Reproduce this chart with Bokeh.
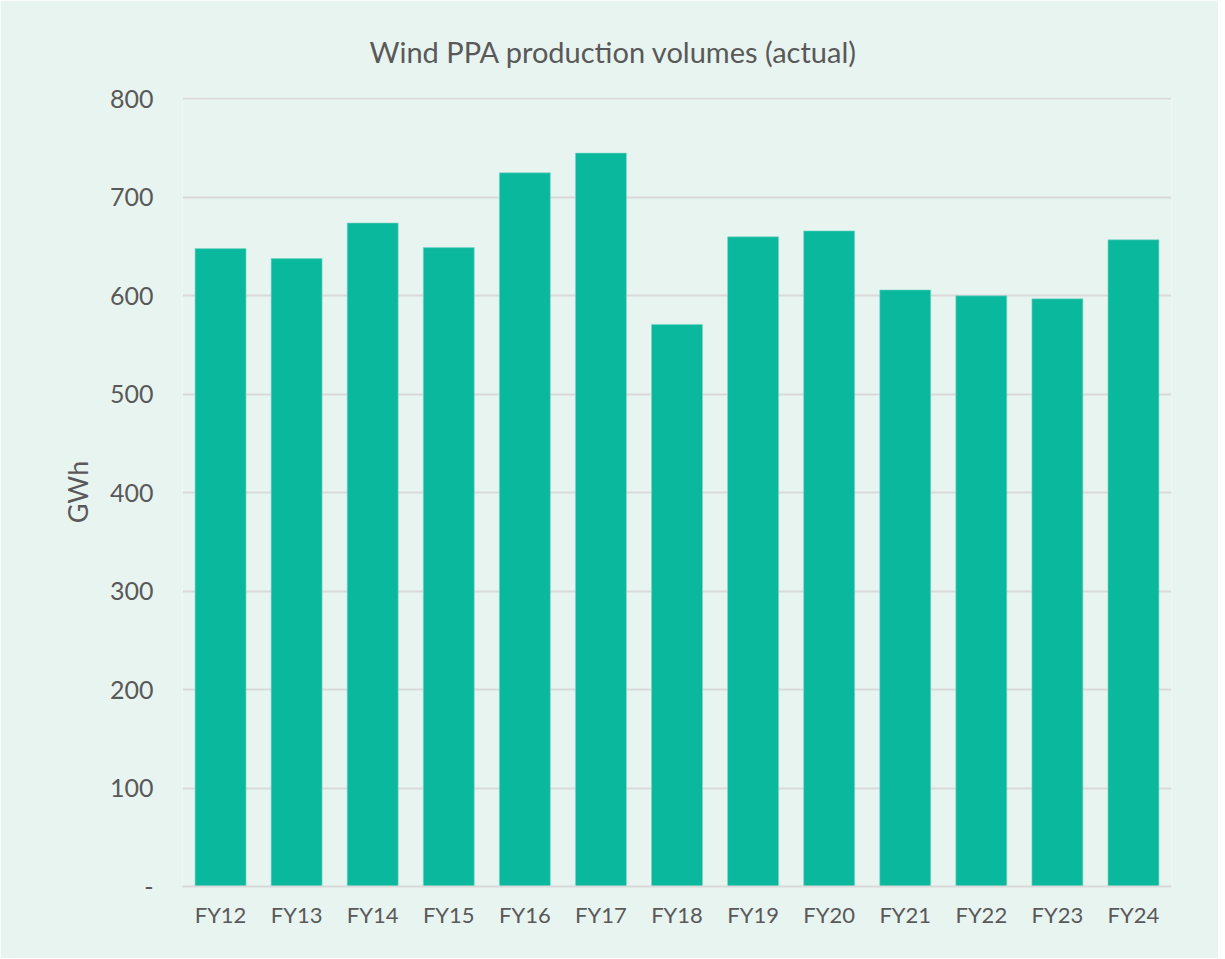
from bokeh.plotting import figure
from bokeh.models import ColumnDataSource, Range1d, FactorRange, FixedTicker
from bokeh.embed import file_html
from bokeh.resources import INLINE

categories = ["FY12", "FY13", "FY14", "FY15", "FY16", "FY17", "FY18",
              "FY19", "FY20", "FY21", "FY22", "FY23", "FY24"]
volumes = [648, 638, 674, 649, 725, 745, 571, 660, 666, 606, 600, 597, 657]
y_ticks = [0, 100, 200, 300, 400, 500, 600, 700, 800]
y_tick_labels = ["-", "100", "200", "300", "400", "500", "600", "700", "800"]

BG = "#e8f4f0"
BAR = "#0ab89e"
TEXT = "#595959"
GRID = "#d9d9d9"
FONT = "Lato"

source = ColumnDataSource(data=dict(cat=categories, val=volumes))

p = figure(width=1218, height=958, x_range=FactorRange(*categories, range_padding=0),
           y_range=Range1d(0, 801.5), output_backend="svg", toolbar_location=None,
           title="Wind PPA production volumes (actual)")

p.vbar(x="cat", top="val", width=0.67, source=source, fill_color=BAR,
       line_color="#7fd6c6", line_width=0.6)

p.background_fill_color = BG
p.border_fill_color = BG
p.outline_line_color = None
p.min_border_left = 182
p.min_border_right = 47
p.min_border_top = 97
p.min_border_bottom = 72

p.title.align = "left"
p.title.offset = 187
p.title.text_font = FONT
p.title.text_font_size = "29px"
p.title.text_font_style = "normal"
p.title.text_color = TEXT
p.title.standoff = 58

p.yaxis.ticker = FixedTicker(ticks=y_ticks)
p.yaxis.major_label_overrides = {t: l for t, l in zip(y_ticks, y_tick_labels)}
p.yaxis.axis_line_color = None
p.yaxis.major_tick_line_color = None
p.yaxis.minor_tick_line_color = None
p.yaxis.major_label_text_font = FONT
p.yaxis.major_label_text_font_size = "25px"
p.yaxis.major_label_text_color = TEXT
p.yaxis.major_label_standoff = 23
p.yaxis.axis_label = "GWh"
p.yaxis.axis_label_text_font = FONT
p.yaxis.axis_label_text_font_size = "27px"
p.yaxis.axis_label_text_font_style = "normal"
p.yaxis.axis_label_text_color = TEXT
p.yaxis.axis_label_standoff = 13

p.xaxis.axis_line_color = GRID
p.xaxis.axis_line_width = 2
p.xaxis.major_tick_line_color = None
p.xaxis.minor_tick_line_color = None
p.xaxis.major_label_text_font = FONT
p.xaxis.major_label_text_font_size = "22px"
p.xaxis.major_label_text_color = TEXT
p.xaxis.major_label_standoff = 8

p.xgrid.grid_line_color = None
p.ygrid.grid_line_color = GRID
p.ygrid.grid_line_width = 2

open("out.html", "w").write(file_html(p, INLINE))
